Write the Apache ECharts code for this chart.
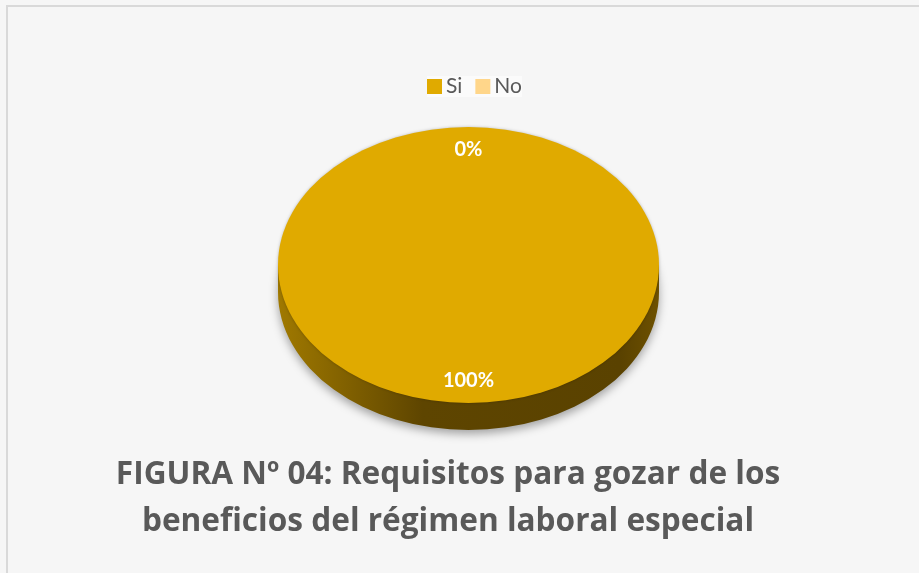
<!DOCTYPE html>
<html>
<head>
<meta charset="utf-8">
<script src="https://cdn.jsdelivr.net/npm/echarts@6/dist/echarts.min.js"></script>
<style>
  html, body { margin: 0; padding: 0; background: #ffffff; }
  #main { width: 919px; height: 573px; }
</style>
</head>
<body>
<div id="main"></div>
<script>
// ---- data ----
const categories = ['Si', 'No'];
const values = [100, 0];
const colors = ['#E0AA00', '#FFD68A'];
const titleLines = ['FIGURA Nº 04: Requisitos para gozar de los', 'beneficios del régimen laboral especial'];

const total = values.reduce((a, b) => a + b, 0);
const startFrac = [];
let acc = 0;
values.forEach(v => { startFrac.push(acc / total); acc += v; });

const PIE = { cx: 468.5, cy: 265, rx: 190.5, ry: 138, depth: 27, labelR: 0.835 };

function makeRender(i) {
  return function (params, api) {
    const v = api.value(0);
    const k = PIE.ry / PIE.rx;
    const a0 = startFrac[i] * Math.PI * 2 - Math.PI / 2;
    const a1 = a0 + (v / total) * Math.PI * 2;
    const children = [];
    const scaled = [];
    if (v > 0) {
      const dy = PIE.depth / k;
      const sideFill = new echarts.graphic.LinearGradient(0, 0, 1, 0, [
        { offset: 0, color: '#A07900' },
        { offset: 0.38, color: '#5E4500' },
        { offset: 0.9, color: '#5A4200' },
        { offset: 1, color: '#6E5100' }
      ]);
      scaled.push({
        type: 'sector',
        shape: { cx: PIE.cx, cy: PIE.cy + dy, r: PIE.rx, startAngle: a0, endAngle: a1 },
        style: { fill: sideFill, shadowBlur: 10, shadowColor: 'rgba(0,0,0,0.35)', shadowOffsetY: 4 }
      });
      scaled.push({
        type: 'rect',
        shape: { x: PIE.cx - PIE.rx, y: PIE.cy, width: PIE.rx * 2, height: dy },
        style: { fill: sideFill }
      });
      scaled.push({
        type: 'sector',
        shape: { cx: PIE.cx, cy: PIE.cy, r: PIE.rx, startAngle: a0, endAngle: a1 },
        style: { fill: colors[i], shadowBlur: 3, shadowColor: 'rgba(0,0,0,0.25)' }
      });
    }
    children.push({
      type: 'group',
      originX: PIE.cx, originY: PIE.cy,
      scaleY: k,
      children: scaled
    });
    const mid = (a0 + a1) / 2;
    children.push({
      type: 'text',
      x: PIE.cx + Math.cos(mid) * PIE.rx * PIE.labelR,
      y: PIE.cy + Math.sin(mid) * PIE.ry * PIE.labelR,
      style: {
        text: Math.round(v / total * 100) + '%',
        fill: '#ffffff',
        font: 'bold 20px Lato, "Noto Sans", sans-serif',
        align: 'center',
        verticalAlign: 'middle'
      },
      z2: 100
    });
    return { type: 'group', children: children };
  };
}

const series = categories.map((name, i) => ({
  name: name,
  type: 'custom',
  coordinateSystem: 'none',
  data: [[values[i]]],
  itemStyle: { color: colors[i] },
  z: i === 0 ? 2 : 3,
  renderItem: makeRender(i)
}));

const chart = echarts.init(document.getElementById('main'));
chart.setOption({
  backgroundColor: '#f6f6f6',
  animation: false,
  graphic: [{
    type: 'rect',
    shape: { x: 7, y: 6, width: 940, height: 600 },
    style: { fill: 'none', stroke: '#d9d9d9', lineWidth: 2 },
    silent: true
  }],
  title: {
    text: titleLines.join('\n'),
    left: 443,
    textAlign: 'center',
    top: 446,
    textStyle: {
      fontFamily: '"Open Sans", Lato, sans-serif',
      fontWeight: 'bold',
      fontSize: 31.6,
      lineHeight: 47,
      color: '#595959'
    }
  },
  legend: {
    data: categories,
    left: 427,
    top: 76,
    icon: 'rect',
    itemWidth: 15,
    itemHeight: 15,
    itemGap: 13,
    textStyle: { fontFamily: 'Lato, "Noto Sans", sans-serif', fontSize: 21, color: '#595959', padding: [0, 0, 0, -1] },
    backgroundColor: 'rgba(255,255,255,0.6)',
    padding: 0
  },
  series: series
});
</script>
</body>
</html>
